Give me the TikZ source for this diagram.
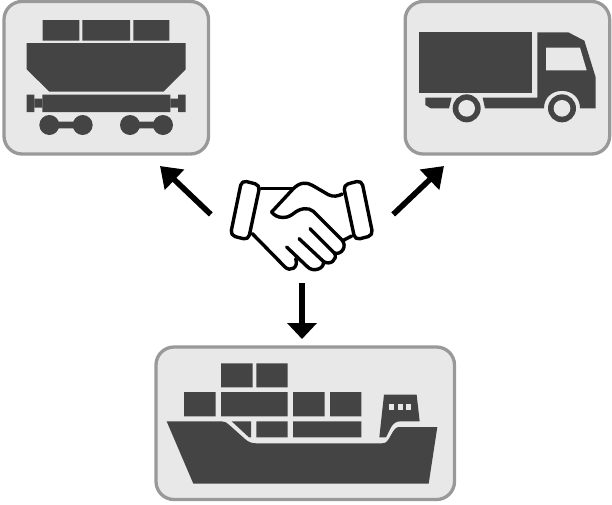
\documentclass[tikz,border=0pt]{standalone}
\usepackage{tikz}
\usetikzlibrary{positioning, arrows.meta}
\definecolor{icongray}{HTML}{444444}
\definecolor{boxfill}{HTML}{E8E8E8}
\definecolor{boxline}{HTML}{999999}

\begin{document}
\begin{tikzpicture}[x=1pt, y=-1pt, on grid,
box/.style ={draw=boxline, fill=boxfill, line width=3.3pt, rounded corners=18pt, minimum height=152.5pt},
icon/.style ={x=0.33333pt, y=-0.33333pt},
solid icon/.style ={fill=icongray},
hole/.style ={fill=boxfill},
hand/.style ={draw=black, line width=3.4pt, line cap=round, line join=round},
flow/.style ={line width=5.6pt, -{Triangle[width=29pt, length=16pt]}},
slant flow/.style ={line width=5.6pt, -{Triangle[width=27pt, length=20pt]}}]
\useasboundingbox (0,0) rectangle (612,504);

\node (hands) [minimum width=182pt, minimum height=105pt] at (302,230.5) {};
\node (rail) [box, minimum width=204.5pt, above left = 152.75pt and 195.75pt of hands] {};
\node (truck) [box, minimum width=204.5pt, above right = 152.75pt and 205.4pt of hands] {};
\node (ship) [box, minimum width=298.5pt, below right = 192.75pt and 3.25pt of hands] {};

% rail wagon
\begin{scope}[shift={(0,0)}, icon]
\fill [solid icon] (128,60) rectangle (238,122) (247,60) rectangle (390,122) (400,60) rectangle (508,122);
\fill [solid icon] (80,129) -- (557,129) -- (557,208) -- (490,275) -- (148,275) -- (80,208) -- cycle;
\fill [solid icon] (127,284) rectangle (511,336) (80,284) rectangle (103,336) (534,284) rectangle (557,336);
\fill [solid icon] (103,296) rectangle (127,323) (511,296) rectangle (534,323);
\foreach \wx in {148,248,390,489}
  \fill [solid icon] (\wx,375) circle (30);
\fill [solid icon] (148,365) rectangle (248,385) (390,365) rectangle (489,385);
\end{scope}

% truck
\begin{scope}[shift={(400,0)}, icon]
\fill [solid icon] (57,97) rectangle (396,279);
\fill [solid icon] (412,97) -- (505,97) -- (553,122) -- (587,232) -- (587,325) -- (540,325)
  .. controls (540,255) and (432,255) .. (432,325) -- (255,325) -- (248,293) -- (412,293) -- cycle;
\fill [hole] (438,143) -- (540,143) -- (560,211) -- (438,211) -- cycle;
\fill [solid icon] (76,293) -- (155,293) -- (147,325) -- (92,325) -- (76,315) -- cycle;
\foreach \wx in {200,486} {
  \fill [solid icon] (\wx,325) circle (42);
  \fill [hole] (\wx,325) circle (25);
}
\end{scope}

% ship
\begin{scope}[shift={(150,344)}, icon]
\fill [solid icon] (213,58) rectangle (308,130) (319,58) rectangle (413,130);
\fill [solid icon] (102,144) rectangle (197,217) (213,144) rectangle (413,217) (429,144) rectangle (524,217) (540,144) rectangle (634,217);
\fill [solid icon] (319,232) rectangle (413,280) (429,232) rectangle (634,280);
\fill [solid icon] (245,232) -- (303,232) -- (303,280) -- (297,280) -- cycle;
\fill [solid icon] (50,232) -- (215,232) .. controls (225,232) and (230,236) .. (238,243) -- (285,285)
  .. controls (295,294) and (305,298) .. (320,298) -- (695,298) .. controls (708,298) and (712,292) .. (718,282)
  -- (730,261) .. controls (735,252) and (740,249) .. (752,249) -- (862,249) -- (836,419) -- (130,419) -- cycle;
\fill [solid icon] (702,152) -- (800,152) -- (809,232) -- (752,232) .. controls (738,232) and (730,238) .. (723,250)
  -- (708,280) -- (688,280) -- cycle;
\foreach \wx in {717,743,769}
  \fill [hole] (\wx,180) rectangle +(15,17);
\end{scope}

% handshake
\begin{scope}[shift={(225,172)}, icon]
\draw [hand, rounded corners=5pt] (50,25) -- (105,39) -- (70,204) -- (16,190) -- cycle;
\draw [hand, rounded corners=5pt] (355,39) -- (410,25) -- (444,190) -- (390,204) -- cycle;
\draw [hand] (108,50) -- (205,50);
\draw [hand] (140,120) -- (205,50) .. controls (225,30) and (245,30) .. (262,40) -- (310,68) .. controls (325,76) and (340,72) .. (352,66);
\draw [hand] (140,120) .. controls (155,140) and (185,142) .. (205,125) .. controls (225,108) and (250,105) .. (265,118)
  -- (350,203) .. controls (368,222) and (350,250) .. (328,243);
\draw [hand] (355,205) -- (380,192);
\draw [hand] (255,170) -- (328,243) .. controls (340,262) and (315,282) .. (295,268);
\draw [hand] (222,200) -- (295,268) .. controls (300,290) and (265,302) .. (248,285);
\draw [hand] (185,225) -- (248,285);
\draw [hand] (82,185) -- (180,285) .. controls (195,300) and (222,288) .. (212,260);
\end{scope}

\coordinate (railin) at (160,166);
\coordinate (truckin) at (444,166);
\coordinate (shipin) at (302,339);
\draw [slant flow] (hands.170) -- (railin);
\draw [slant flow] (hands.10) -- (truckin);
\draw [flow] (hands.south) -- (shipin);
\end{tikzpicture}
\end{document}
